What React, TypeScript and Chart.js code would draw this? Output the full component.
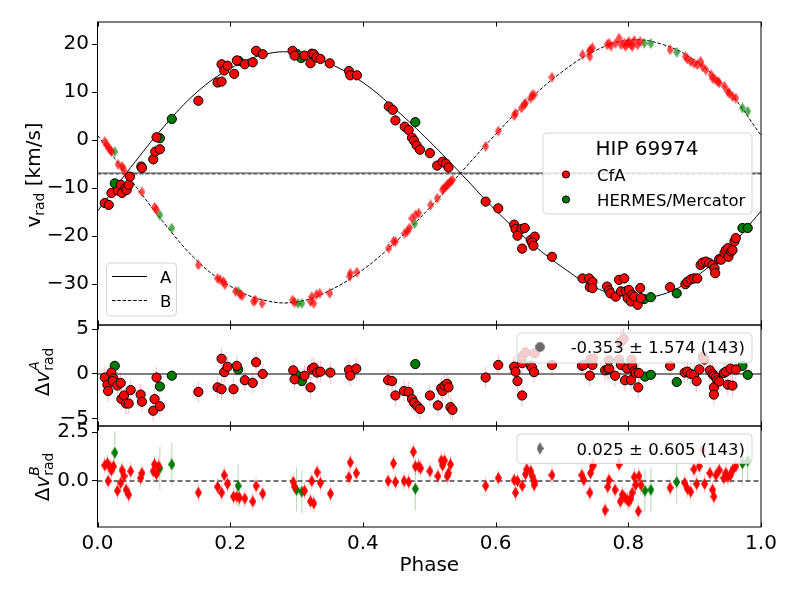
import { useEffect, useRef } from 'react';
import { Chart, registerables } from 'chart.js';

Chart.register(...registerables);

const FONT = "'DejaVu Sans', 'Liberation Sans', sans-serif";

type Pt = [number, number];

// ---------- model curves ----------
const modelPhase = [0, 0.05, 0.1, 0.15, 0.2, 0.25, 0.3, 0.35, 0.4, 0.45, 0.5, 0.55, 0.6, 0.65, 0.7, 0.75, 0.8, 0.85, 0.9, 0.95, 1.0];
const modelA = [-14.8, -5.7, 2.8, 10.0, 14.9, 17.8, 18.2, 15.9, 12.0, 6.3, -0.2, -7.3, -14.6, -21.0, -26.4, -30.7, -32.6, -32.2, -28.6, -22.7, -14.8];
const modelB = [1.0, -8.2, -17.2, -25.1, -30.4, -33.3, -33.7, -31.3, -27.0, -21.1, -14.2, -6.4, 1.2, 8.3, 14.2, 18.6, 20.8, 20.0, 16.6, 10.4, 1.0];
const gammaA = -6.85;
const gammaB = -7.05;

// ---------- ticks ----------
const xTicks = [0, 0.2, 0.4, 0.6, 0.8, 1.0];
const yTicksTop = [-30, -20, -10, 0, 10, 20];
const yTicksMid = [-5, 0, 5];
const yTicksBot = [0, 2.5];

// ---------- top panel: radial velocities [phase, km/s] ----------
const cfaA: Pt[] = [
  [0.011, -13.1], [0.017, -13.5], [0.021, -11.0], [0.031, -10.5], [0.035, -9.3], [0.037, -11.0], [0.042, -10.0],
  [0.044, -10.4], [0.047, -9.3], [0.049, -7.6], [0.066, -5.5], [0.067, -5.8], [0.084, -4.0], [0.087, -2.4],
  [0.094, -1.9], [0.089, 0.6], [0.152, 8.2], [0.181, 12.0], [0.187, 12.2], [0.187, 15.8], [0.191, 14.5],
  [0.196, 15.5], [0.206, 13.8], [0.210, 16.6], [0.222, 15.8], [0.234, 16.2], [0.239, 18.6], [0.249, 17.9],
  [0.294, 18.6], [0.297, 17.6], [0.312, 17.6], [0.321, 16.0], [0.323, 18.0], [0.326, 17.9], [0.330, 17.2],
  [0.336, 16.9], [0.350, 16.0], [0.379, 14.4], [0.381, 13.5], [0.391, 13.5], [0.439, 7.0], [0.445, 6.3],
  [0.449, 4.1], [0.463, 2.8], [0.469, 2.1], [0.474, 0.5], [0.477, -0.1], [0.481, -1.1], [0.486, -2.0],
  [0.501, -2.7], [0.512, -5.3], [0.520, -4.5], [0.525, -4.9], [0.529, -5.7], [0.585, -12.8], [0.604, -14.2],
  [0.628, -17.6], [0.630, -18.5], [0.639, -18.5], [0.644, -18.3], [0.633, -19.9], [0.640, -22.6], [0.653, -20.8],
  [0.659, -20.1], [0.655, -21.3], [0.657, -22.0], [0.685, -24.3], [0.731, -28.8], [0.741, -28.8], [0.742, -30.6],
  [0.746, -29.5], [0.746, -30.8], [0.768, -30.5], [0.771, -31.3], [0.773, -31.9], [0.781, -32.6], [0.786, -29.1],
  [0.794, -28.8], [0.789, -31.5], [0.796, -31.5], [0.801, -31.2], [0.799, -32.9], [0.804, -33.6], [0.806, -32.2],
  [0.809, -32.6], [0.814, -34.3], [0.818, -30.8], [0.819, -32.9], [0.863, -30.6], [0.886, -30.0], [0.889, -29.5],
  [0.894, -29.0], [0.899, -28.8], [0.904, -28.8], [0.909, -26.0], [0.912, -25.5], [0.917, -25.3], [0.922, -25.6],
  [0.927, -26.0], [0.930, -26.7], [0.931, -27.7], [0.937, -24.8], [0.940, -24.9], [0.945, -23.5], [0.947, -22.9],
  [0.950, -22.5], [0.951, -24.3], [0.955, -23.2], [0.957, -22.9], [0.960, -21.1], [0.962, -20.4],
];
const hermesA: Pt[] = [
  [0.026, -9.0], [0.094, 0.4], [0.112, 4.4], [0.213, 16.5], [0.301, 17.9], [0.307, 17.1],
  [0.479, 3.75], [0.824, -33.1], [0.834, -32.7], [0.873, -31.9], [0.972, -18.3], [0.980, -18.3],
];
const cfaB: Pt[] = [
  [0.011, -0.3], [0.014, -1.0], [0.016, -1.5], [0.019, -2.0], [0.021, -2.4], [0.031, -5.1], [0.037, -5.5],
  [0.039, -6.0], [0.044, -7.2], [0.047, -7.6], [0.049, -7.9], [0.067, -10.8], [0.086, -14.0], [0.089, -14.5],
  [0.152, -26.0], [0.181, -28.8], [0.185, -29.1], [0.190, -29.5], [0.192, -30.1], [0.208, -31.5], [0.215, -32.2],
  [0.218, -32.4], [0.235, -33.6], [0.238, -33.3], [0.248, -34.0], [0.294, -33.3], [0.297, -33.8], [0.321, -33.6],
  [0.323, -32.6], [0.326, -34.0], [0.330, -32.2], [0.335, -31.9], [0.350, -31.9], [0.380, -28.4], [0.381, -27.7],
  [0.391, -27.5], [0.439, -22.5], [0.446, -21.1], [0.449, -21.1], [0.463, -19.4], [0.467, -19.0], [0.470, -18.3],
  [0.474, -16.3], [0.479, -15.6], [0.484, -15.2], [0.502, -13.5], [0.512, -12.1], [0.520, -10.4], [0.522, -10.0],
  [0.525, -9.7], [0.527, -9.3], [0.530, -9.0], [0.532, -8.6], [0.535, -8.3], [0.585, -1.3], [0.604, 1.9],
  [0.628, 5.1], [0.630, 5.6], [0.639, 6.7], [0.643, 7.4], [0.645, 7.7], [0.653, 8.75], [0.655, 9.4], [0.658, 9.4],
  [0.685, 13.1], [0.731, 17.8], [0.741, 18.5], [0.742, 17.4], [0.743, 18.8], [0.746, 19.2], [0.768, 19.85],
  [0.771, 20.2], [0.774, 19.6], [0.781, 20.2], [0.786, 21.25], [0.789, 19.85], [0.794, 20.2], [0.796, 19.5],
  [0.799, 20.1], [0.801, 20.5], [0.804, 19.85], [0.806, 19.5], [0.809, 20.75], [0.814, 19.85], [0.818, 20.5],
  [0.863, 18.8], [0.886, 17.4], [0.889, 16.9], [0.894, 16.4], [0.899, 16.0], [0.904, 15.7], [0.909, 16.4],
  [0.912, 15.3], [0.917, 14.6], [0.925, 13.6], [0.927, 12.9], [0.931, 12.6], [0.935, 12.2], [0.937, 11.9],
  [0.945, 11.2], [0.950, 10.1], [0.952, 9.8], [0.957, 9.1], [0.962, 8.75],
];
const hermesB: Pt[] = [
  [0.026, -2.4], [0.094, -15.6], [0.112, -18.3], [0.212, -31.5], [0.302, -34.0], [0.308, -34.0],
  [0.478, -17.4], [0.824, 20.2], [0.834, 20.1], [0.873, 18.3], [0.972, 6.7], [0.980, 6.0],
];

// ---------- middle panel: residuals of A ----------
const resCfaA: Pt[] = [
  [0.011, -0.4], [0.015, -1.2], [0.016, -1.9], [0.021, 0.15], [0.024, -0.5], [0.023, -0.8], [0.030, -1.3],
  [0.035, -1.0], [0.036, -2.8], [0.040, -2.4], [0.043, -3.3], [0.047, -3.3], [0.050, -1.8], [0.065, -2.3],
  [0.067, -3.1], [0.084, -4.1], [0.086, -2.8], [0.089, -0.4], [0.094, -3.6], [0.152, -2.0], [0.181, -1.5],
  [0.187, -1.7], [0.187, 1.7], [0.191, 0.2], [0.196, 0.8], [0.205, -1.7], [0.210, 0.9], [0.222, -0.7],
  [0.234, -1.0], [0.239, 1.3], [0.249, 0.0], [0.295, 0.4], [0.297, -0.6], [0.312, -0.2], [0.321, -1.5],
  [0.323, 0.55], [0.326, 0.7], [0.331, 0.15], [0.336, 0.25], [0.351, 0.15], [0.379, 0.45], [0.381, -0.2],
  [0.390, 0.6], [0.438, -0.7], [0.444, -0.8], [0.449, -2.4], [0.462, -1.9], [0.469, -2.0], [0.474, -2.8],
  [0.477, -3.2], [0.482, -3.6], [0.486, -3.9], [0.501, -2.4], [0.513, -3.5], [0.518, -1.6], [0.520, -1.9],
  [0.523, -1.3], [0.527, -1.1], [0.529, -1.5], [0.532, -3.7], [0.535, -4.0], [0.585, -0.4], [0.604, 1.0],
  [0.628, 0.8], [0.630, 0.25], [0.633, -0.8], [0.640, 1.2], [0.640, -2.4], [0.640, 1.9], [0.645, 2.4],
  [0.653, 0.9], [0.655, 0.7], [0.658, 0.2], [0.659, 2.3], [0.685, 1.0], [0.730, 0.9], [0.733, 1.0],
  [0.742, -0.2], [0.743, 1.6], [0.746, 1.0], [0.747, 1.7], [0.765, 0.4], [0.769, 0.5], [0.771, 0.6],
  [0.771, 1.5], [0.780, -0.2], [0.786, 1.6], [0.789, 1.0], [0.789, 3.6], [0.793, 3.9], [0.795, -0.7],
  [0.798, 0.6], [0.804, -0.7], [0.805, 1.6], [0.806, 0.9], [0.809, 0.3], [0.811, 0.1], [0.815, -1.5],
  [0.816, 0.1], [0.863, 0.9], [0.885, 0.15], [0.889, 0.25], [0.894, 0.0], [0.899, -0.1], [0.903, -0.8],
  [0.907, 0.5], [0.912, 1.9], [0.915, 1.6], [0.923, 0.4], [0.927, 0.0], [0.929, -0.2], [0.932, -0.4],
  [0.934, -0.7], [0.929, -1.5], [0.929, -2.3], [0.937, -0.85], [0.944, 0.1], [0.947, 0.25], [0.950, -1.2],
  [0.954, 0.6], [0.957, -1.3], [0.962, 0.5],
];
const resHermesA: Pt[] = [
  [0.026, 0.9], [0.094, -1.4], [0.112, -0.2], [0.212, 0.5], [0.300, -0.1], [0.308, -0.8],
  [0.479, 1.1], [0.825, -0.3], [0.834, -0.1], [0.873, -0.9], [0.972, 0.9], [0.980, -0.1],
];

// ---------- bottom panel: residuals of B ----------
const resCfaB: Pt[] = [
  [0.011, 0.8], [0.015, 0.9], [0.019, 0.7], [0.021, 0.55], [0.024, 0.75], [0.016, 0.0], [0.030, -0.5],
  [0.035, -0.1], [0.037, 0.55], [0.040, 0.25], [0.043, -0.45], [0.047, -0.7], [0.050, 0.5], [0.065, 0.15],
  [0.067, 0.4], [0.084, 0.5], [0.086, 0.85], [0.089, 0.35], [0.092, 0.75], [0.152, -0.6], [0.181, -0.3],
  [0.187, -0.6], [0.191, 0.3], [0.196, -0.15], [0.205, -0.8], [0.210, -0.8], [0.214, -0.85], [0.222, -0.9],
  [0.234, -1.05], [0.239, -0.25], [0.249, -0.65], [0.295, -0.05], [0.297, -0.3], [0.312, -0.5], [0.321, -1.05],
  [0.326, -1.15], [0.323, 0.0], [0.331, 0.45], [0.336, -0.1], [0.351, -0.65], [0.379, 0.2], [0.381, 0.95],
  [0.390, 0.4], [0.438, 0.0], [0.446, 0.9], [0.449, -0.05], [0.462, 0.0], [0.469, -0.05], [0.476, 1.5],
  [0.479, 0.75], [0.484, 0.75], [0.487, 0.65], [0.501, 0.5], [0.513, 0.25], [0.518, 1.05], [0.520, 0.8],
  [0.523, 1.05], [0.527, 0.25], [0.529, 0.4], [0.532, 0.85], [0.585, -0.25], [0.604, 0.15], [0.628, 0.05],
  [0.630, -0.6], [0.633, 0.0], [0.640, -0.25], [0.645, 0.35], [0.647, 0.6], [0.653, 0.5], [0.655, 0.25],
  [0.658, -0.2], [0.659, -0.05], [0.685, 0.3], [0.730, 0.3], [0.733, 0.05], [0.742, -0.6], [0.743, 0.4],
  [0.746, 0.75], [0.747, 0.8], [0.765, -1.5], [0.769, -0.3], [0.771, 0.05], [0.780, -0.45], [0.786, 0.85],
  [0.788, -1.05], [0.791, -0.7], [0.795, -0.85], [0.799, -1.0], [0.801, -1.05], [0.804, -0.9], [0.806, -0.6],
  [0.809, 0.2], [0.811, -0.2], [0.815, -1.55], [0.816, 0.25], [0.819, -0.2], [0.863, -0.35], [0.885, -0.1],
  [0.889, -0.4], [0.894, -0.55], [0.899, 0.6], [0.903, -0.15], [0.907, 0.75], [0.912, 1.6], [0.915, -0.15],
  [0.923, 0.4], [0.927, -0.45], [0.929, -0.8], [0.932, 0.3], [0.937, 0.55], [0.944, 0.15], [0.947, 0.4],
  [0.950, 0.2], [0.954, 0.3], [0.957, 0.55], [0.962, 0.75],
];
const resHermesB: Pt[] = [
  [0.026, 1.45], [0.094, 0.65], [0.112, 0.85], [0.212, -0.25], [0.300, -0.45], [0.308, -0.55],
  [0.479, -0.4], [0.825, -0.5], [0.834, -0.45], [0.873, -0.05], [0.972, 0.9], [0.980, 1.05],
];

// typical error bars (km/s)
const errCfaA = 1.1;
const errHermesA = 0.35;
const errCfaB = 0.5;
const errHermesB = 1.1;
const errResCfaA = 1.2;
const errResCfaB = 0.45;

const legendTitle = 'HIP 69974';
const legendSources = ['CfA', 'HERMES/Mercator'];
const statsA = '-0.353 \u00b1 1.574 (143)';
const statsB = '0.025 \u00b1 0.605 (143)';

const RED = '#ff0000';
const GREEN = '#007a00';

const toXY = (pts: Pt[]) => pts.map(([x, y]) => ({ x, y }));
const fmtInt = (v: number) => (v < 0 ? '\u2212' + Math.abs(v) : String(v));

function thinDiamond(fill: string, w: number, h: number): HTMLCanvasElement {
  const c = document.createElement('canvas');
  c.width = w;
  c.height = h;
  const g = c.getContext('2d')!;
  g.fillStyle = fill;
  g.beginPath();
  g.moveTo(w / 2, 0);
  g.lineTo(w, h / 2);
  g.lineTo(w / 2, h);
  g.lineTo(0, h / 2);
  g.closePath();
  g.fill();
  return c;
}

function roundRect(ctx: CanvasRenderingContext2D, x: number, y: number, w: number, h: number, r: number) {
  ctx.beginPath();
  ctx.moveTo(x + r, y);
  ctx.lineTo(x + w - r, y);
  ctx.arcTo(x + w, y, x + w, y + r, r);
  ctx.lineTo(x + w, y + h - r);
  ctx.arcTo(x + w, y + h, x + w - r, y + h, r);
  ctx.lineTo(x + r, y + h);
  ctx.arcTo(x, y + h, x, y + h - r, r);
  ctx.lineTo(x, y + r);
  ctx.arcTo(x, y, x + r, y, r);
  ctx.closePath();
}

function legendFrame(ctx: CanvasRenderingContext2D, x: number, y: number, w: number, h: number) {
  ctx.save();
  roundRect(ctx, x, y, w, h, 4);
  ctx.fillStyle = 'rgba(255,255,255,0.8)';
  ctx.fill();
  ctx.strokeStyle = 'rgba(204,204,204,0.8)';
  ctx.lineWidth = 1;
  ctx.stroke();
  ctx.restore();
}

function dot(ctx: CanvasRenderingContext2D, x: number, y: number, r: number, fill: string, stroke: string | null) {
  ctx.beginPath();
  ctx.arc(x, y, r, 0, Math.PI * 2);
  ctx.fillStyle = fill;
  ctx.fill();
  if (stroke) {
    ctx.strokeStyle = stroke;
    ctx.lineWidth = 1;
    ctx.stroke();
  }
}

type Seg = { t: string; f: string; dy: number; stackWithNext?: boolean };
function rotatedLabel(ctx: CanvasRenderingContext2D, bx: number, cy: number, segs: Seg[]) {
  ctx.save();
  ctx.translate(bx, cy);
  ctx.rotate(-Math.PI / 2);
  ctx.fillStyle = '#000';
  ctx.textBaseline = 'alphabetic';
  ctx.textAlign = 'left';
  const widths = segs.map((s) => {
    ctx.font = s.f;
    return ctx.measureText(s.t).width;
  });
  let total = 0;
  for (let i = 0; i < segs.length; i++) {
    if (segs[i].stackWithNext) {
      total += Math.max(widths[i], widths[i + 1]);
      i++;
    } else total += widths[i];
  }
  let x = -total / 2;
  for (let i = 0; i < segs.length; i++) {
    const s = segs[i];
    ctx.font = s.f;
    ctx.fillText(s.t, x, s.dy);
    if (s.stackWithNext) {
      const n = segs[i + 1];
      ctx.font = n.f;
      ctx.fillText(n.t, x, n.dy);
      x += Math.max(widths[i], widths[i + 1]);
      i++;
    } else x += widths[i];
  }
  ctx.restore();
}

function errorBarPlugin() {
  return {
    id: 'errorBars',
    beforeDatasetsDraw(chart: any) {
      const { ctx, chartArea: a } = chart;
      const ys = chart.scales.y;
      ctx.save();
      ctx.beginPath();
      ctx.rect(a.left, a.top, a.right - a.left, a.bottom - a.top);
      ctx.clip();
      chart.data.datasets.forEach((ds: any, i: number) => {
        if (!ds.err) return;
        const meta = chart.getDatasetMeta(i);
        ctx.strokeStyle = ds.errColor;
        ctx.lineWidth = 1;
        meta.data.forEach((el: any, j: number) => {
          const v = ds.data[j].y;
          ctx.beginPath();
          ctx.moveTo(el.x, ys.getPixelForValue(v - ds.err));
          ctx.lineTo(el.x, ys.getPixelForValue(v + ds.err));
          ctx.stroke();
        });
      });
      ctx.restore();
    },
  };
}

type Ref = { y: number; color: string; width: number; dash: number[] };
function refLinePlugin(lines: Ref[]) {
  return {
    id: 'refLines',
    beforeDatasetsDraw(chart: any) {
      const { ctx, chartArea: a } = chart;
      const ys = chart.scales.y;
      ctx.save();
      lines.forEach((l) => {
        const py = ys.getPixelForValue(l.y);
        ctx.strokeStyle = l.color;
        ctx.lineWidth = l.width;
        ctx.setLineDash(l.dash);
        ctx.beginPath();
        ctx.moveTo(a.left, py);
        ctx.lineTo(a.right, py);
        ctx.stroke();
      });
      ctx.restore();
    },
  };
}

function decorPlugin(extra: (ctx: CanvasRenderingContext2D, chart: any) => void) {
  return {
    id: 'decor',
    afterDatasetsDraw(chart: any) {
      const { ctx, chartArea: a } = chart;
      const xs = chart.scales.x;
      ctx.save();
      ctx.strokeStyle = '#000';
      ctx.lineWidth = 1;
      ctx.setLineDash([]);
      // inward x ticks on top and bottom edges
      xTicks.forEach((t) => {
        const px = Math.round(xs.getPixelForValue(t)) + 0.5;
        ctx.beginPath();
        ctx.moveTo(px, a.top);
        ctx.lineTo(px, a.top + 4.5);
        ctx.moveTo(px, a.bottom);
        ctx.lineTo(px, a.bottom - 4.5);
        ctx.stroke();
      });
      ctx.strokeRect(a.left, a.top, a.right - a.left, a.bottom - a.top);
      ctx.restore();
      ctx.save();
      extra(ctx, chart);
      ctx.restore();
    },
  };
}

function makeOptions(padTop: number, padBottom: number, yMin: number, yMax: number, yTicks: number[], fmt: (v: number) => string, showX: boolean) {
  return {
    responsive: false,
    animation: false as const,
    events: [] as any[],
    layout: { padding: { top: padTop, bottom: padBottom, left: 0, right: 39 } },
    plugins: { legend: { display: false }, tooltip: { enabled: false }, title: { display: false } },
    scales: {
      x: {
        type: 'linear' as const,
        min: 0,
        max: 1,
        display: showX,
        afterBuildTicks: (s: any) => {
          s.ticks = xTicks.map((v) => ({ value: v }));
        },
        afterFit: (s: any) => {
          s.height = showX ? 73 : 0;
        },
        grid: { display: false, drawTicks: false },
        border: { display: false },
        ticks: {
          autoSkip: false,
          maxRotation: 0,
          padding: 5,
          color: '#000',
          font: { family: FONT, size: 20 },
          callback: (v: any) => Number(v).toFixed(1),
        },
        title: {
          display: showX,
          text: 'Phase',
          color: '#000',
          font: { family: FONT, size: 20 },
          padding: { top: 0, bottom: 22 },
        },
      },
      y: {
        type: 'linear' as const,
        min: yMin,
        max: yMax,
        afterBuildTicks: (s: any) => {
          s.ticks = yTicks.map((v) => ({ value: v }));
        },
        afterFit: (s: any) => {
          s.width = 97.5;
        },
        grid: { drawOnChartArea: false, drawTicks: true, tickLength: 5.5, color: '#000', lineWidth: 1 },
        border: { display: false },
        ticks: {
          autoSkip: false,
          padding: 3,
          color: '#000',
          font: { family: FONT, size: 20 },
          callback: (v: any) => fmt(Number(v)),
        },
      },
    },
  };
}

export default function App() {
  const r1 = useRef<HTMLCanvasElement>(null);
  const r2 = useRef<HTMLCanvasElement>(null);
  const r3 = useRef<HTMLCanvasElement>(null);

  useEffect(() => {
    Chart.defaults.font.family = FONT;
    const paleRedD = thinDiamond('rgba(255,0,0,0.7)', 7, 11);
    const paleGreenD = thinDiamond('rgba(0,128,0,0.65)', 7, 11);
    const redD = thinDiamond(RED, 7, 12);
    const greenD = thinDiamond(GREEN, 7, 12);
    const grayD = thinDiamond('#6a6a6a', 7, 13);

    const circle = (label: string, pts: Pt[], color: string, err: number, errColor: string) => ({
      type: 'scatter' as const,
      label,
      data: toXY(pts),
      pointStyle: 'circle',
      pointRadius: 4.6,
      pointBackgroundColor: color,
      pointBorderColor: '#000',
      pointBorderWidth: 1,
      showLine: false,
      err,
      errColor,
    });
    const diamond = (label: string, pts: Pt[], img: HTMLCanvasElement, err: number, errColor: string) => ({
      type: 'scatter' as const,
      label,
      data: toXY(pts),
      pointStyle: img,
      pointRadius: 5,
      showLine: false,
      err,
      errColor,
    });

    const c1 = new Chart(r1.current!, {
      type: 'scatter',
      data: {
        datasets: [
          circle('CfA A', cfaA, RED, errCfaA, 'rgba(255,0,0,0.25)'),
          circle('HERMES A', hermesA, GREEN, errHermesA, 'rgba(0,128,0,0.3)'),
          diamond('CfA B', cfaB, paleRedD, errCfaB, 'rgba(255,0,0,0.2)'),
          diamond('HERMES B', hermesB, paleGreenD, errCfaB, 'rgba(0,128,0,0.2)'),
          {
            type: 'line' as const,
            label: 'A',
            data: modelPhase.map((p, i) => ({ x: p, y: modelA[i] })),
            borderColor: '#000',
            borderWidth: 1,
            pointRadius: 0,
            tension: 0.4,
            fill: false,
          },
          {
            type: 'line' as const,
            label: 'B',
            data: modelPhase.map((p, i) => ({ x: p, y: modelB[i] })),
            borderColor: '#000',
            borderWidth: 1,
            borderDash: [3.5, 1.8],
            pointRadius: 0,
            tension: 0.4,
            fill: false,
          },
        ] as any,
      },
      options: makeOptions(22, 275, -38.5, 24.6, yTicksTop, fmtInt, false) as any,
      plugins: [
        errorBarPlugin(),
        refLinePlugin([
          { y: gammaA, color: 'rgba(0,0,0,0.75)', width: 1, dash: [] },
          { y: gammaB, color: 'rgba(0,0,0,0.75)', width: 1, dash: [4, 2] },
        ]),
        decorPlugin((ctx) => {
          // HIP legend
          legendFrame(ctx, 543, 133, 209, 81);
          ctx.fillStyle = '#000';
          ctx.textBaseline = 'alphabetic';
          ctx.textAlign = 'center';
          ctx.font = `20px ${FONT}`;
          ctx.fillText(legendTitle, 647, 155);
          dot(ctx, 566, 174.5, 3.6, RED, '#000');
          dot(ctx, 566, 199.5, 3.6, GREEN, '#000');
          ctx.fillStyle = '#000';
          ctx.textAlign = 'left';
          ctx.font = `16.5px ${FONT}`;
          ctx.fillText(legendSources[0], 597, 180.5);
          ctx.fillText(legendSources[1], 597, 205.5);
          // A / B legend
          legendFrame(ctx, 106.5, 263, 70, 53);
          ctx.strokeStyle = '#000';
          ctx.lineWidth = 1;
          ctx.beginPath();
          ctx.moveTo(112, 276.5);
          ctx.lineTo(147, 276.5);
          ctx.stroke();
          ctx.setLineDash([3.5, 1.8]);
          ctx.beginPath();
          ctx.moveTo(112, 300.5);
          ctx.lineTo(147, 300.5);
          ctx.stroke();
          ctx.setLineDash([]);
          ctx.fillStyle = '#000';
          ctx.fillText('A', 160, 282.5);
          ctx.fillText('B', 160, 306.5);
          // y title
          rotatedLabel(ctx, 40, 175, [
            { t: 'v', f: `20px ${FONT}`, dy: 0 },
            { t: 'rad', f: `14px ${FONT}`, dy: 3.5 },
            { t: ' [km/s]', f: `20px ${FONT}`, dy: 0 },
          ]);
        }),
      ],
    });

    const c2 = new Chart(r2.current!, {
      type: 'scatter',
      data: {
        datasets: [
          circle('CfA A', resCfaA, RED, errResCfaA, 'rgba(255,0,0,0.25)'),
          circle('HERMES A', resHermesA, GREEN, errHermesA, 'rgba(0,128,0,0.3)'),
        ] as any,
      },
      options: makeOptions(325, 174, -5.8, 5.45, yTicksMid, fmtInt, false) as any,
      plugins: [
        errorBarPlugin(),
        refLinePlugin([{ y: 0, color: '#555', width: 1.5, dash: [] }]),
        decorPlugin((ctx) => {
          legendFrame(ctx, 517, 333, 235, 30);
          dot(ctx, 540, 347, 4.6, '#6a6a6a', '#8a8a8a');
          ctx.fillStyle = '#000';
          ctx.textAlign = 'right';
          ctx.textBaseline = 'alphabetic';
          ctx.font = `16.5px ${FONT}`;
          ctx.fillText(statsA, 745, 353);
          rotatedLabel(ctx, 49, 372, [
            { t: '\u0394', f: `20px ${FONT}`, dy: 0 },
            { t: 'v', f: `italic 20px ${FONT}`, dy: 0 },
            { t: 'A', f: `italic 14px ${FONT}`, dy: -10, stackWithNext: true },
            { t: 'rad', f: `14px ${FONT}`, dy: 4 },
          ]);
        }),
      ],
    });

    const c3 = new Chart(r3.current!, {
      type: 'scatter',
      data: {
        datasets: [
          diamond('CfA B', resCfaB, redD, errResCfaB, 'rgba(255,0,0,0.25)'),
          diamond('HERMES B', resHermesB, greenD, errHermesB, 'rgba(0,128,0,0.3)'),
        ] as any,
      },
      options: makeOptions(426, 0, -2.36, 2.82, yTicksBot, (v) => v.toFixed(1), true) as any,
      plugins: [
        errorBarPlugin(),
        refLinePlugin([{ y: 0, color: '#444', width: 1.3, dash: [5, 3] }]),
        decorPlugin((ctx) => {
          legendFrame(ctx, 517, 434, 235, 29.5);
          ctx.drawImage(grayD, 540 - 3.5, 448.5 - 6.5);
          ctx.fillStyle = '#000';
          ctx.textAlign = 'right';
          ctx.textBaseline = 'alphabetic';
          ctx.font = `16.5px ${FONT}`;
          ctx.fillText(statsB, 745, 454.5);
          rotatedLabel(ctx, 49, 477, [
            { t: '\u0394', f: `20px ${FONT}`, dy: 0 },
            { t: 'v', f: `italic 20px ${FONT}`, dy: 0 },
            { t: 'B', f: `italic 14px ${FONT}`, dy: -10, stackWithNext: true },
            { t: 'rad', f: `14px ${FONT}`, dy: 4 },
          ]);
        }),
      ],
    });

    return () => {
      c1.destroy();
      c2.destroy();
      c3.destroy();
    };
  }, []);

  const cs = { position: 'absolute' as const, left: 0, top: 0, width: 800, height: 600 };
  return (
    <div style={{ position: 'fixed', left: 0, top: 0, width: 800, height: 600, background: '#fff' }}>
      <canvas ref={r1} width={800} height={600} style={cs} />
      <canvas ref={r2} width={800} height={600} style={cs} />
      <canvas ref={r3} width={800} height={600} style={cs} />
    </div>
  );
}
